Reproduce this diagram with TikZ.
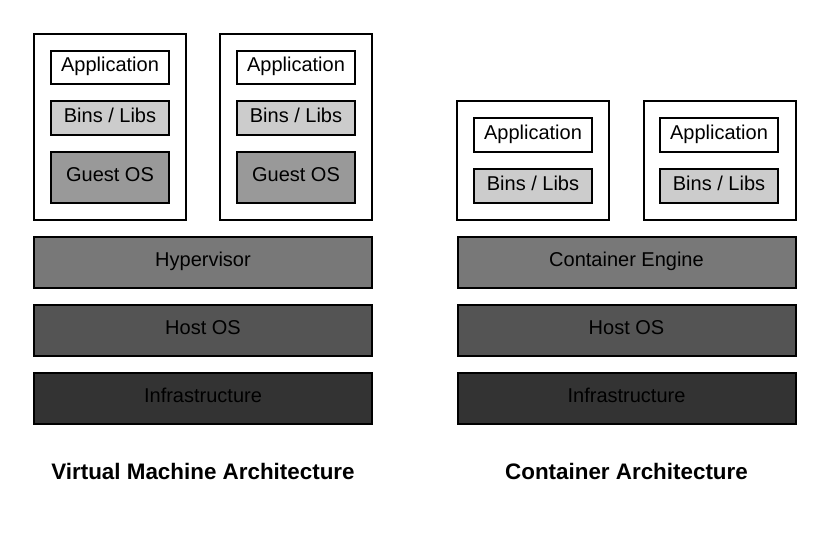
\documentclass[tikz,border=0pt]{standalone}
\usepackage{fontspec}
\setmainfont{Liberation Sans}
\begin{document}
\begin{tikzpicture}[x=0.75pt,y=-0.75pt,
  box/.style={draw=black,line width=1.5pt,inner sep=0pt,text height=11pt,text depth=4.5pt,font=\fontsize{15}{18}\selectfont,text=black},
  outerbox/.style={box,fill=white},
  appbox/.style={box,fill=white,minimum width=88.5pt,minimum height=25pt},
  libbox/.style={box,fill=black!20,minimum width=88.5pt,minimum height=25.5pt},
  guestbox/.style={box,fill=black!40,minimum width=88.5pt,minimum height=38.25pt},
  layerbox/.style={box,minimum width=253.5pt,minimum height=38.25pt},
  title/.style={font=\fontsize{16.8}{20}\bfseries\selectfont,text=black}]
\useasboundingbox (0,0) rectangle (830,542);
% VM side
\node[outerbox,minimum width=114pt,minimum height=139.5pt] (vm1) at (110,127) {};
\node[outerbox,minimum width=114pt,minimum height=139.5pt] (vm2) at (296,127) {};
\node[appbox] (app1) at (110,67.5) {Application};
\node[libbox] (lib1) at (110,118) {Bins / Libs};
\node[guestbox] (gos1) at (110,177.5) {Guest OS};
\node[appbox] (app2) at (296,67.5) {Application};
\node[libbox] (lib2) at (296,118) {Bins / Libs};
\node[guestbox] (gos2) at (296,177.5) {Guest OS};
\node[layerbox,fill=black!53] (hyp) at (203,262.5) {Hypervisor};
\node[layerbox,fill=black!67] (hos1) at (203,330.5) {Host OS};
\node[layerbox,fill=black!80] (inf1) at (203,398) {Infrastructure};
\node[title] (t1) at (203,471) {Virtual Machine Architecture};
% Container side
\node[outerbox,minimum width=114pt,minimum height=89.25pt] (c1) at (533,160.5) {};
\node[outerbox,minimum width=114pt,minimum height=89.25pt] (c2) at (719.5,160.5) {};
\node[appbox] (app3) at (533,135) {Application};
\node[libbox] (lib3) at (533,186) {Bins / Libs};
\node[appbox] (app4) at (719,135) {Application};
\node[libbox] (lib4) at (719,186) {Bins / Libs};
\node[layerbox,fill=black!53] (eng) at (626.5,262.5) {Container Engine};
\node[layerbox,fill=black!67] (hos2) at (626.5,330.5) {Host OS};
\node[layerbox,fill=black!80] (inf2) at (626.5,398) {Infrastructure};
\node[title] (t2) at (626.5,471) {Container Architecture};
\end{tikzpicture}
\end{document}
